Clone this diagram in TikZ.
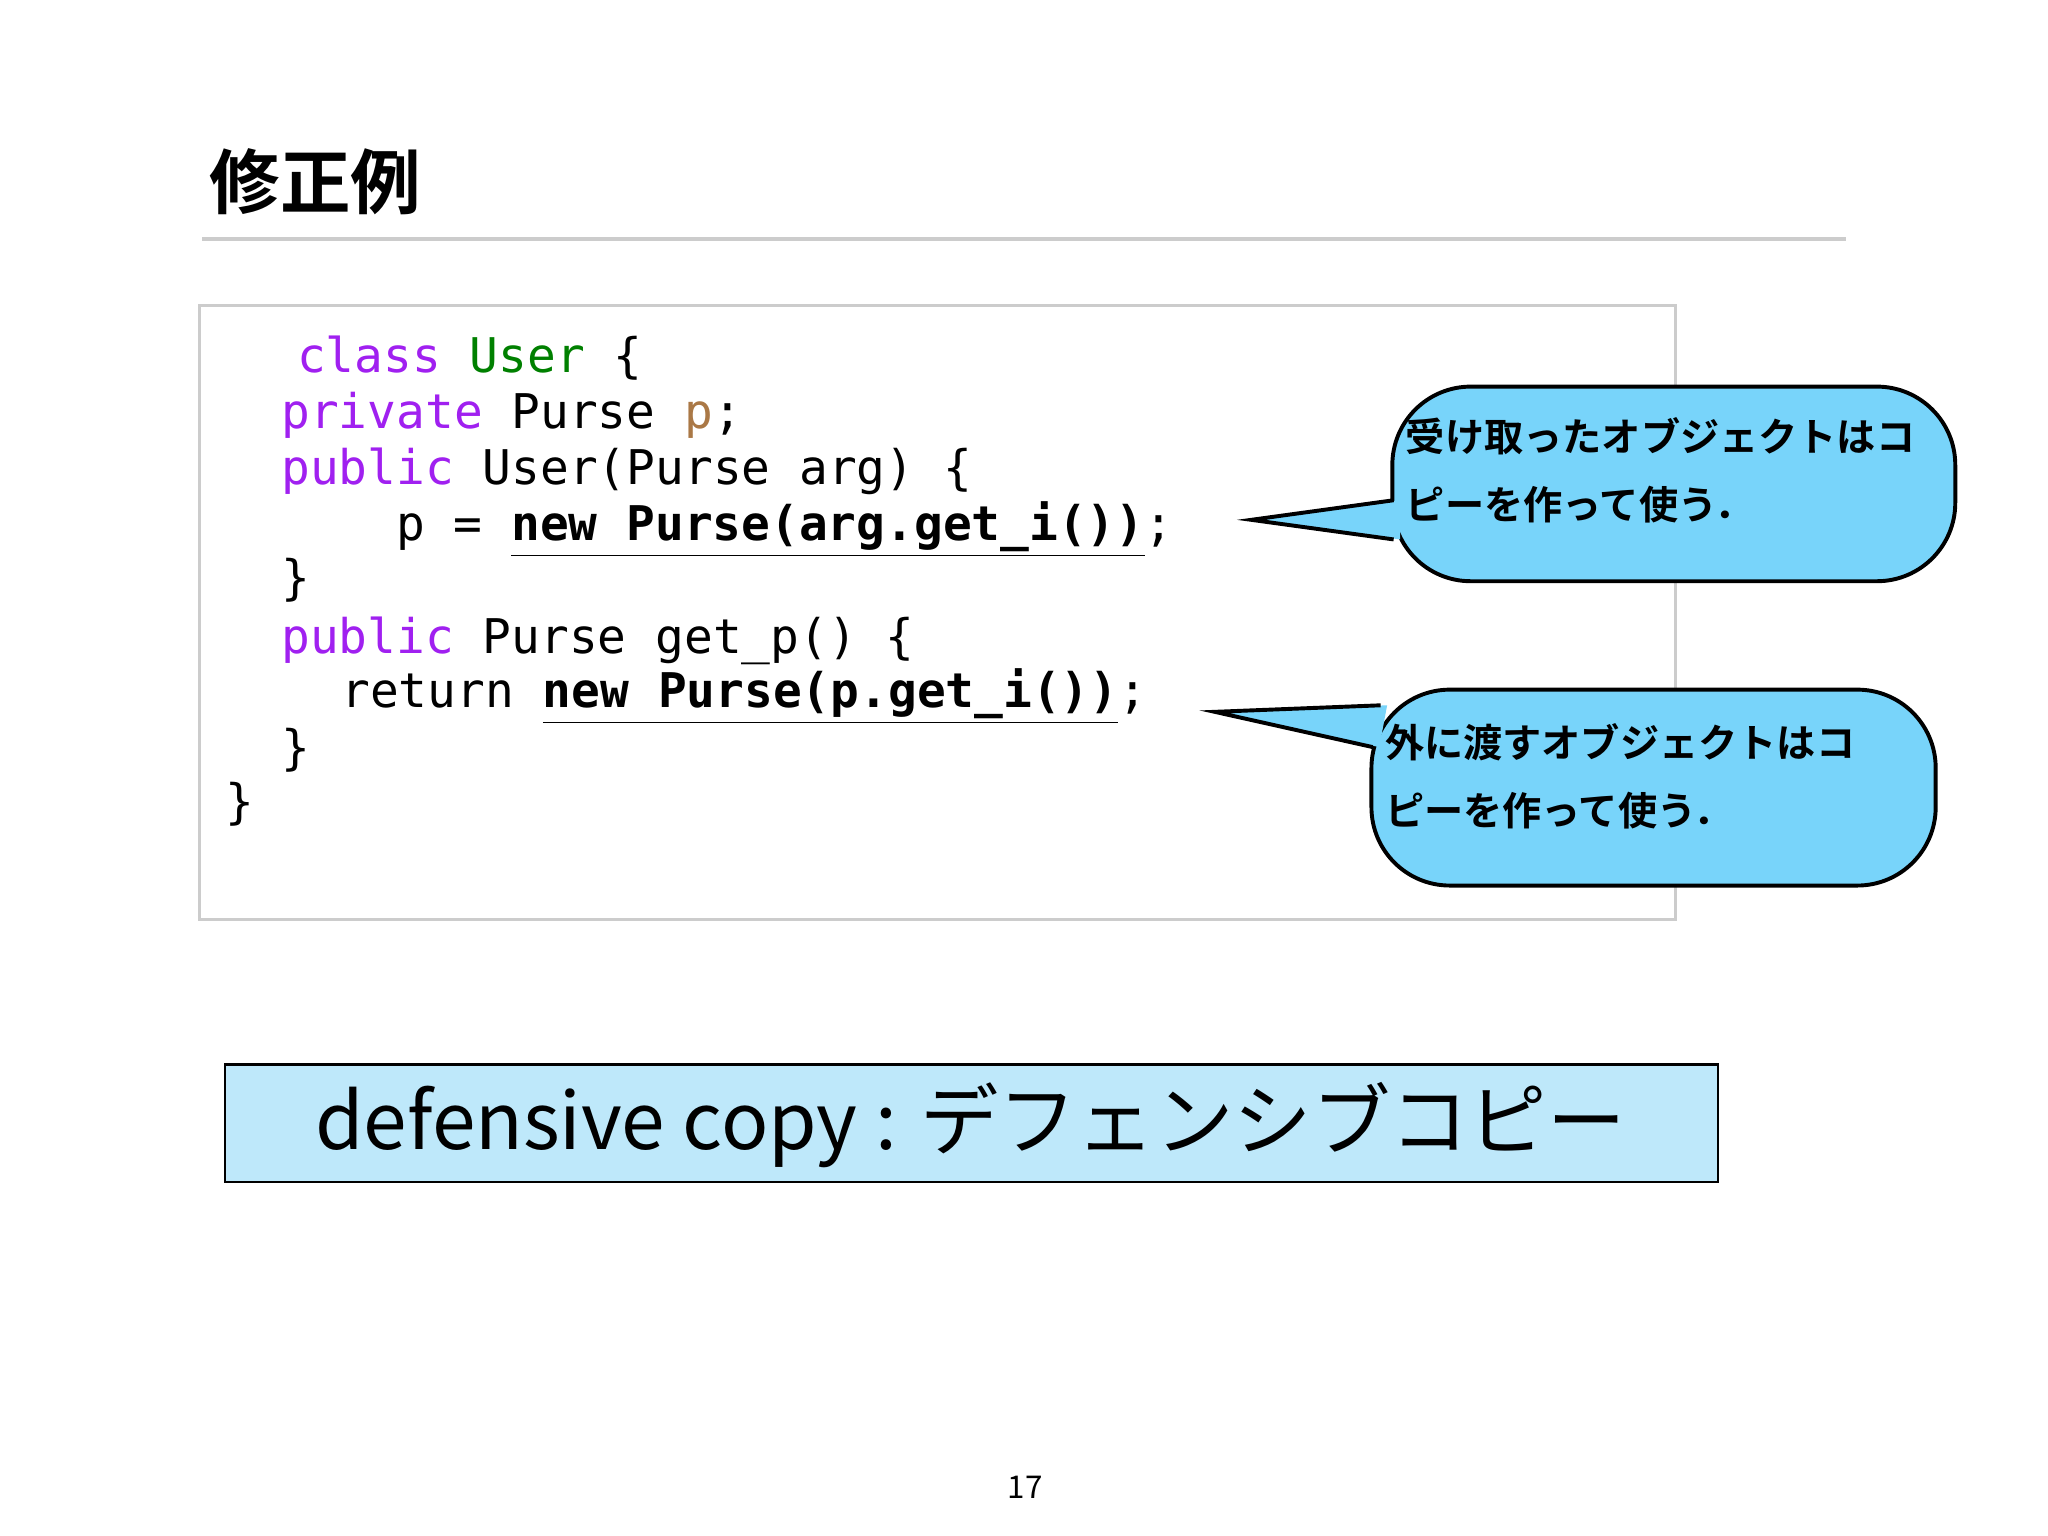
\documentclass[tikz,border=0pt]{standalone}
\usepackage{fontspec}
\setmonofont{DejaVu Sans Mono}
\newfontfamily\jp{Noto Sans CJK JP}
\newfontfamily\jpb{Noto Sans CJK JP Bold}
\definecolor{kw}{RGB}{160,32,240}
\definecolor{cls}{RGB}{0,128,0}
\definecolor{fld}{RGB}{170,120,70}
\definecolor{call}{RGB}{120,212,250}
\definecolor{bot}{RGB}{190,232,250}
\begin{document}
\begin{tikzpicture}[x=0.5pt,y=-0.5pt,
  code/.style={anchor=base west,inner sep=0,font=\ttfamily\fontsize{18.3}{20}\selectfont},
  ctext/.style={anchor=base west,inner sep=0,font=\jpb\fontsize{15}{18}\selectfont},
  bub/.style={fill=call,draw=black,line width=1.5pt}]
\useasboundingbox (0,0) rectangle (1568,1176);
\fill[white] (0,0) rectangle (1568,1176);
\node[anchor=base west,inner sep=0,font=\jpb\fontsize{27}{30}\selectfont] (title) at (160,160) {修正例};
\draw[gray!40,line width=1.5pt] (155,183) -- (1413,183);
\draw[gray!40,line width=1.2pt] (153,234) rectangle (1283,704);
\newcommand\ub[1]{\underline{\textbf{#1}}}
\node[code] (l1) at (227,285) {\textcolor{kw}{class} \textcolor{cls}{User} \{};
\node[code] (l2) at (215,328) {\textcolor{kw}{private} Purse \textcolor{fld}{p};};
\node[code] (l3) at (215,371) {\textcolor{kw}{public} User(Purse arg) \{};
\node[code] (l4) at (303,414) {p = \ub{new Purse(arg.get\_i())};};
\node[code] (l5) at (215,455) {\}};
\node[code] (l6) at (215,500) {\textcolor{kw}{public} Purse get\_p() \{};
\node[code] (l7) at (261,542) {return \ub{new Purse(p.get\_i())};};
\node[code] (l8) at (215,585) {\}};
\node[code] (l9) at (172,627) {\}};
% callout 1
\draw[bub,rounded corners=30] (1066,296) rectangle (1497,445);
\coordinate (t1) at (958,398);
\fill[call] (1072,383) -- (t1) -- (1072,413) -- cycle;
\draw[line width=1.5pt,line join=miter] (1067,383) -- (t1) -- (1067,413);
\node[ctext] (c1a) at (1076,346) {受け取ったオブジェクトはコ};
\node[ctext] (c1b) at (1076,398) {ピーを作って使う．};
% callout 2
\draw[bub,rounded corners=30] (1050,528) rectangle (1482,678);
\coordinate (t2) at (930,545);
\fill[call] (1062,540) -- (t2) -- (1056,572) -- cycle;
\draw[line width=1.5pt] (1057,540) -- (t2) -- (1051,572);
\node[ctext] (c2a) at (1060,580) {外に渡すオブジェクトはコ};
\node[ctext] (c2b) at (1060,632) {ピーを作って使う．};
% bottom
\draw[fill=bot,draw=black,line width=0.8pt] (172,815) rectangle (1315,905);
\node[anchor=base,inner sep=0,font=\jp\fontsize{30}{34}\selectfont] (def) at (743,880) {defensive copy : デフェンシブコピー};
\node[anchor=base,inner sep=0,font=\jp\fontsize{12}{14}\selectfont] (pg) at (785,1147) {17};
\end{tikzpicture}
\end{document}
